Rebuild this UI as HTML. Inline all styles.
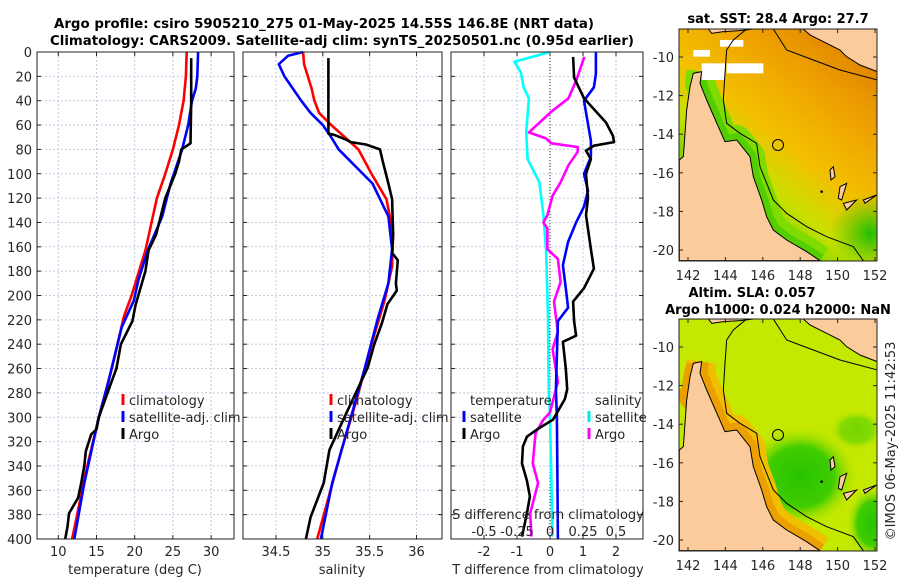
<!DOCTYPE html>
<html><head><meta charset="utf-8"><style>
html,body{margin:0;padding:0;background:#fff;}
svg{display:block;font-family:"DejaVu Sans","Liberation Sans",sans-serif;}
.tk{font-size:13px;fill:#262626;}
.ttl{font-size:13px;font-weight:bold;fill:#000;}
</style></head><body>
<svg id="chart" width="900" height="580" viewBox="0 0 900 580">
<text class="ttl" x="54" y="28" textLength="540" lengthAdjust="spacingAndGlyphs">Argo profile: csiro 5905210_275 01-May-2025 14.55S 146.8E (NRT data)</text>
<text class="ttl" x="50" y="45" textLength="584" lengthAdjust="spacingAndGlyphs">Climatology: CARS2009. Satellite-adj clim: synTS_20250501.nc (0.95d earlier)</text>
<g id="panels"></g>
<g id="maps"></g>
<text class="tk" transform="translate(895,441) rotate(-90)" text-anchor="middle">©IMOS 06-May-2025 11:42:53</text>
</svg>
<script>
// ---- data ----
const depthTicks = [0,20,40,60,80,100,120,140,160,180,200,220,240,260,280,300,320,340,360,380,400];
const tempTicks = [10,15,20,25,30];
const salTicks = [34.5,35,35.5,36];
const tdiffTicks = [-2,-1,0,1,2];
const sdiffTicks = [-0.5,-0.25,0,0.25,0.5];
const sdiffLabels = ["-0.5","-0.25","0","0.25","0.5"];

const climTDepth = [0,20,40,60,80,100,120,163,200,217,260,300,340,400];
const climT = [26.8,26.7,26.4,25.8,25.0,24.0,22.9,21.4,19.6,18.6,17.0,15.3,13.8,11.8];
const satTDepth = [0,20,30,40,60,80,108,135,163,187,204,226,272,300,354,400];
const satT = [28.3,28.2,28.0,27.5,27.0,26.2,24.7,23.6,21.7,20.5,19.9,18.3,16.5,15.3,13.4,12.1];
const argoTDepth = [5,40,75,80,90,100,120,135,150,163,180,208,221,240,260,272,300,310,314,328,340,354,366,379,390,400];
const argoT = [27.4,27.4,27.3,26.1,25.8,25.3,24.0,23.4,22.8,21.8,21.4,20.1,19.7,18.2,17.6,16.9,15.3,15.0,14.3,13.6,13.4,13.0,12.6,11.4,11.2,10.9];

const climSDepth = [0,10,20,30,40,50,60,80,100,121,149,176,204,240,286,327,400];
const climS = [34.79,34.80,34.84,34.88,34.91,34.96,35.09,35.38,35.52,35.68,35.75,35.74,35.66,35.52,35.36,35.20,34.94];
const satSDepth = [0,3,10,20,30,40,50,60,70,80,108,135,162,190,218,259,300,354,400];
const satS = [34.79,34.63,34.53,34.59,34.68,34.77,34.87,35.0,35.09,35.17,35.53,35.70,35.74,35.70,35.59,35.45,35.30,35.10,34.98];
const argoSDepth = [5,67,68,72,74,76,80,90,108,121,149,165,171,190,196,207,223,240,259,300,327,354,382,400];
const argoS = [35.06,35.06,35.12,35.25,35.30,35.46,35.61,35.64,35.70,35.74,35.75,35.74,35.80,35.78,35.79,35.69,35.63,35.55,35.48,35.23,35.07,35.01,34.87,34.82];

const dTArgoDepth = [4,21,38,58,69,74,77,81,88,100,120,134,162,178,194,205,221,233,238,260,277,285,302,310,316,324,338,352,365,379,398];
const dTArgo = [0.70,0.73,1.03,1.70,1.91,1.94,1.33,1.09,1.24,1.09,1.15,1.09,1.24,1.33,1.03,0.70,0.73,0.79,0.39,0.48,0.52,0.45,0.09,-0.39,-0.70,-0.82,-0.85,-0.70,-0.61,-0.70,-0.85];
const dTSatDepth = [0,18,29,40,73,86,100,114,127,140,156,175,194,210,221,277,300,400];
const dTSat = [1.39,1.39,1.33,1.03,1.24,1.24,1.03,1.15,1.03,0.79,0.55,0.39,0.48,0.55,0.24,0.18,0.21,0.24];
const dSSatDepth = [0,8,17,29,38,66,88,107,134,162,216,277,300,398];
const dSSat = [0,-0.27,-0.22,-0.20,-0.16,-0.18,-0.17,-0.08,-0.05,-0.03,-0.015,-0.01,0.0,0.02];
const dSArgoDepth = [4,23,38,49,66,71,75,78,82,93,107,118,134,140,145,162,170,189,205,230,244,271,296,302,313,338,354,379,398];
const dSArgo = [0.26,0.20,0.14,0.01,-0.16,-0.03,0.01,0.21,0.21,0.14,0.08,0.02,-0.02,-0.05,-0.02,-0.02,0.06,0.08,0.03,0.06,0.02,0.06,0.0,-0.05,-0.11,-0.13,-0.09,-0.15,-0.14];

// ---- helpers ----
const NS = "http://www.w3.org/2000/svg";
function mk(tag, attrs, parent){const e=document.createElementNS(NS,tag);for(const k in attrs)e.setAttribute(k,attrs[k]);parent.appendChild(e);return e;}
const yD = d => 52 + d*1.2175;
const p1x = t => 58.3 + (t-10)*7.64;
const p2x = s => 322.8 + (s-35)*93.7;
const p3x = t => 550 + t*33;
const p3s = s => 550 + s*132;

const panels = document.getElementById('panels');
function panel(name, x0, x1, xt, xf, xlabs){
  const g = mk('g', {}, panels);
  
  
  depthTicks.forEach(d=>{ mk('line',{x1:x0,x2:x1,y1:yD(d),y2:yD(d),stroke:'#c5cbe0','stroke-width':1,'stroke-dasharray':'2,2'},g);
    mk('line',{x1:x0,x2:x0+4,y1:yD(d),y2:yD(d),stroke:'#222'},g); mk('line',{x1:x1-4,x2:x1,y1:yD(d),y2:yD(d),stroke:'#222'},g);});
  xt.forEach((v,i)=>{ const x=xf(v); mk('line',{x1:x,x2:x,y1:52,y2:539,stroke:'#c5cbe0','stroke-dasharray':'2,2'},g);
    mk('line',{x1:x,x2:x,y1:535,y2:539,stroke:'#222'},g); mk('line',{x1:x,x2:x,y1:52,y2:56,stroke:'#222'},g);
    const t=mk('text',{x:x,y:556,'text-anchor':'middle',class:'tk'},g); t.textContent=xlabs[i];
    
    
  });
  return g;
}
function line(g, depths, vals, fx, color, name){
  const pts = depths.map((d,i)=>fx(vals[i]).toFixed(1)+','+yD(d).toFixed(1)).join(' ');
  const p = mk('polyline',{points:pts,fill:'none',stroke:color,'stroke-width':2.6,'stroke-linejoin':'round'},g);
  
  
}
function box(g,x0,x1){ mk('rect',{x:x0,y:52,width:x1-x0,height:487,fill:'none',stroke:'#222','stroke-width':1},g); }
function legend(g, x, y, color, label, name){
  mk('line',{x1:x,x2:x,y1:y-6,y2:y+5,stroke:color,'stroke-width':3},g);
  const t=mk('text',{x:x+6,y:y+5,class:'tk'},g); t.textContent=label;
  
  
}
function txt(g,x,y,s,name,anchor){ const t=mk('text',{x:x,y:y,class:'tk','text-anchor':anchor||'middle'},g); t.textContent=s;
  
   return t;}

// panel 1
const g1 = panel('temperature-panel', 37, 234, tempTicks, p1x, tempTicks.map(String));
depthTicks.forEach(d=>txt(g1,32,yD(d)+5,String(d),'y-tick-label','end'));
line(g1, climTDepth, climT, p1x, '#ff0000', 'climatology-temp-line');
line(g1, satTDepth, satT, p1x, '#0000ff', 'satellite-temp-line');
line(g1, argoTDepth, argoT, p1x, '#000000', 'argo-temp-line');
box(g1,37,234);
txt(g1,135,574,'temperature (deg C)','x-axis-title');
legend(g1,123,400,'#ff0000','climatology','legend-climatology');
legend(g1,123,417,'#0000ff','satellite-adj. clim','legend-satellite');
legend(g1,123,434,'#000000','Argo','legend-argo');

// panel 2
const g2 = panel('salinity-panel', 243, 442, salTicks, p2x, salTicks.map(String));
line(g2, climSDepth, climS, p2x, '#ff0000', 'climatology-sal-line');
line(g2, satSDepth, satS, p2x, '#0000ff', 'satellite-sal-line');
line(g2, argoSDepth, argoS, p2x, '#000000', 'argo-sal-line');
box(g2,243,442);
txt(g2,342,574,'salinity','x-axis-title');
legend(g2,331,400,'#ff0000','climatology','legend-climatology');
legend(g2,331,417,'#0000ff','satellite-adj. clim','legend-satellite');
legend(g2,331,434,'#000000','Argo','legend-argo');

// panel 3
const g3 = panel('difference-panel', 451, 643, tdiffTicks, p3x, tdiffTicks.map(String));
mk('line',{x1:550,x2:550,y1:52,y2:539,stroke:'#333','stroke-dasharray':'1,2'},g3);
line(g3, dSSatDepth, dSSat, p3s, '#00ffff', 'satellite-sdiff-line');
line(g3, dSArgoDepth, dSArgo, p3s, '#ff00ff', 'argo-sdiff-line');
line(g3, dTSatDepth, dTSat, p3x, '#0000ff', 'satellite-tdiff-line');
line(g3, dTArgoDepth, dTArgo, p3x, '#000000', 'argo-tdiff-line');
box(g3,451,643);
txt(g3,548,574,'T difference from climatology','x-axis-title');
txt(g3,548,519,'S difference from climatology','s-axis-title');
sdiffTicks.forEach((s,i)=>txt(g3,p3s(s),536,sdiffLabels[i],'s-tick-label'));
txt(g3,470,405,'temperature','legend-temperature-header','start');
legend(g3,464,417,'#0000ff','satellite','legend-temp-satellite');
legend(g3,464,434,'#000000','Argo','legend-temp-argo');
txt(g3,595,405,'salinity','legend-salinity-header','start');
legend(g3,589,417,'#00e8e8','satellite','legend-sal-satellite');
legend(g3,589,434,'#ff00ff','Argo','legend-sal-argo');

// ---- maps ----
const maps = document.getElementById('maps');
const landMain = "118,480 130,470 140,330 150,260 160,220 185,215 180,250 200,300 235,380 255,425 290,420 330,470 340,530 365,600 380,650 400,690 440,720 500,755 540,782 118,782";
const landNG = "490,87 510,105 560,130 600,150 620,170 660,195 712,215 712,87";
const landTop = "205,87 215,100 250,95 300,92 340,87";
const coastLine = "185,215 180,250 200,300 235,380 255,425 290,420 330,470 340,530 365,600 380,650 400,690 440,720 500,755 540,782";
const shelf = "320,87 280,120 260,150 255,220 250,300 260,370 300,400 350,430 360,500 380,550 400,600 440,640 500,680 560,710 640,740 670,782";
const shelf2 = "400,87 440,150 520,180 600,210 712,240";
const latLabels = ["-10","-12","-14","-16","-18","-20"];
const lonLabels = ["142","144","146","148","150","152"];

function drawMap(name, oy, variant, titles){
  const g = mk('g',{},maps);
  
  
  const id = 'clip'+oy;
  const cp = mk('clipPath',{id:id},g); mk('rect',{x:679,y:29+oy,width:198,height:232},cp);
  const inner = mk('g',{'clip-path':'url(#'+id+')'},g);
  const s = mk('g',{transform:'translate(640,'+oy+') scale(0.33333)'},inner);
  const defs = mk('defs',{},g);
  if(variant===1){
    const lg = mk('linearGradient',{id:'sst',x1:'1',y1:'0',x2:'0.3',y2:'1'},defs);
    [['0','#d97400'],['0.3','#eea000'],['0.55','#f3c000'],['0.72','#c8e000'],['0.9','#50cc00'],['1','#30c000']].forEach(a=>mk('stop',{offset:a[0],'stop-color':a[1]},lg));
    mk('rect',{x:118,y:87,width:594,height:695,fill:'url(#sst)'},s);
    const rg = mk('radialGradient',{id:'sstg'},defs);
    mk('stop',{offset:'0','stop-color':'#20c000','stop-opacity':1},rg); mk('stop',{offset:'1','stop-color':'#40c800','stop-opacity':0},rg);
    mk('ellipse',{cx:690,cy:700,rx:120,ry:120,fill:'url(#sstg)'},s);
    mk('polyline',{points:coastLine,fill:'none',stroke:'#80dc00','stroke-width':90,'stroke-linejoin':'round'},s);
    mk('polyline',{points:coastLine,fill:'none',stroke:'#40c800','stroke-width':40,'stroke-linejoin':'round',opacity:0.7},s);
    mk('rect',{x:185,y:190,width:70,height:50,fill:'#fff'},s);
    mk('rect',{x:260,y:190,width:110,height:30,fill:'#fff'},s);
    mk('rect',{x:240,y:120,width:70,height:20,fill:'#fff'},s);
    mk('rect',{x:160,y:150,width:50,height:20,fill:'#fff'},s);
  } else {
    mk('rect',{x:118,y:87,width:594,height:695,fill:'#c4e800'},s);
    const rg = mk('radialGradient',{id:'slag'},defs);
    mk('stop',{offset:'0','stop-color':'#28c400'},rg); mk('stop',{offset:'0.6','stop-color':'#40cc00'},rg); mk('stop',{offset:'1','stop-color':'#b0e400','stop-opacity':0},rg);
    mk('ellipse',{cx:480,cy:560,rx:170,ry:150,fill:'url(#slag)'},s);
    mk('ellipse',{cx:700,cy:700,rx:80,ry:110,fill:'url(#slag)'},s);
    mk('ellipse',{cx:650,cy:420,rx:80,ry:60,fill:'url(#slag)',opacity:0.5},s);
    mk('polyline',{points:coastLine,fill:'none',stroke:'#f0c000','stroke-width':90,'stroke-linejoin':'round'},s);
    mk('polyline',{points:coastLine,fill:'none',stroke:'#eca000','stroke-width':45,'stroke-linejoin':'round'},s);
    mk('polyline',{points:"118,300 140,330 150,260 160,220",fill:'none',stroke:'#eca000','stroke-width':40},s);
  }
  [landMain,landNG,landTop].forEach(p=>mk('polygon',{points:p,fill:'#fbcb9c',stroke:'#000','stroke-width':1,'vector-effect':'non-scaling-stroke'},s));
  [shelf,shelf2].forEach(p=>mk('polyline',{points:p,fill:'none',stroke:'#000','stroke-width':1,'vector-effect':'non-scaling-stroke'},s));
  mk('path',{d:'M570,510 l10,-10 l5,30 l-12,10 z M600,560 l20,-10 l-15,50 l-10,-5 z M610,610 l40,-10 l-30,30 z M670,600 l40,-15 l-35,25 z',fill:'#fbcb9c',stroke:'#000','stroke-width':1,'vector-effect':'non-scaling-stroke'},s);
  mk('circle',{cx:545,cy:575,r:4,fill:'#000'},s);
  const c = mk('circle',{cx:778,cy:145+oy,r:5.5,fill:'none',stroke:'#000','stroke-width':1},g);
  
  
  mk('rect',{x:679,y:29+oy,width:198,height:232,fill:'none',stroke:'#222','stroke-width':1},g);
  latLabels.forEach((l,i)=>{ const y=57+oy+i*38.6; mk('line',{x1:679,x2:683,y1:y,y2:y,stroke:'#222'},g); mk('line',{x1:873,x2:877,y1:y,y2:y,stroke:'#222'},g);
    txt(g,674,y+5,l,'lat-tick-label','end'); });
  lonLabels.forEach((l,i)=>{ const x=688+i*37.4; mk('line',{x1:x,x2:x,y1:257+oy,y2:261+oy,stroke:'#222'},g); mk('line',{x1:x,x2:x,y1:29+oy,y2:33+oy,stroke:'#222'},g);
    txt(g,x,280+oy,l,'lon-tick-label'); });
  titles.forEach(t=>{ const e=mk('text',{x:t[1],y:t[2]+oy,'text-anchor':'middle',class:'ttl'},g); e.textContent=t[0];
    
     });
}
drawMap('sst-map', 0, 1, [['sat. SST: 28.4 Argo: 27.7',778,23]]);
drawMap('sla-map', 290, 2, [['Altim. SLA: 0.057',752,7],['Argo h1000: 0.024 h2000: NaN',778,24]]);
</script>
</body></html>
